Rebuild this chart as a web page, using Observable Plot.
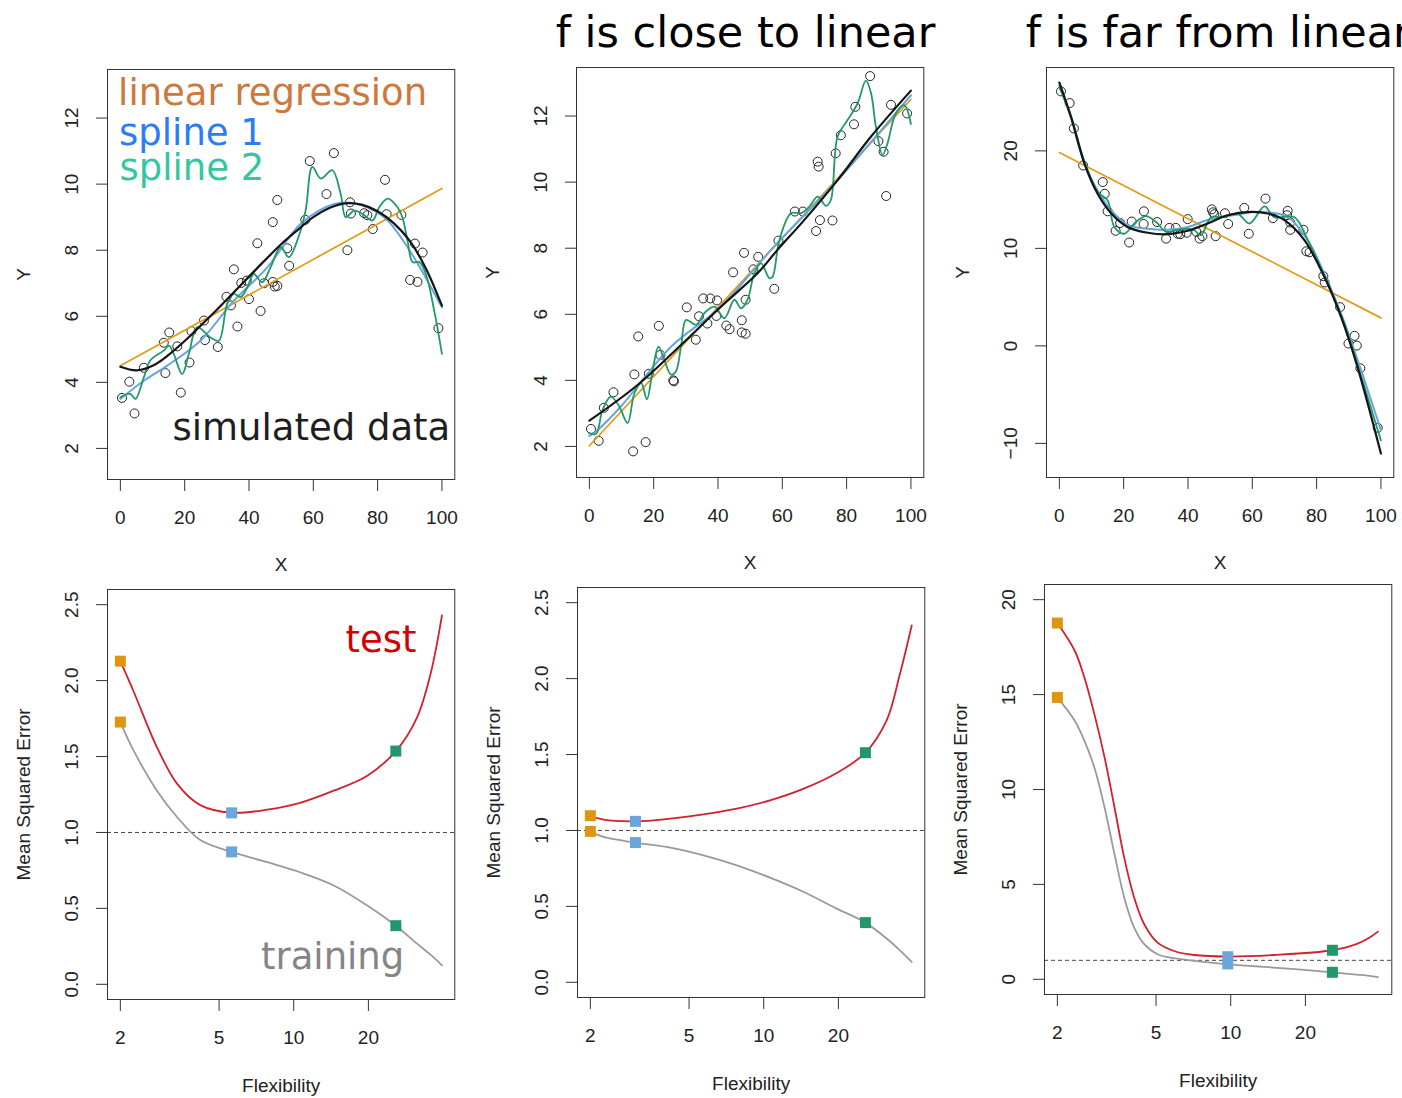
<!DOCTYPE html>
<html><head><meta charset="utf-8">
<script src="https://cdn.jsdelivr.net/npm/d3@7"></script>
<script src="https://cdn.jsdelivr.net/npm/@observablehq/plot@0.6"></script>
<style>
html,body{margin:0;padding:0;background:#fff;overflow:hidden;}
#wrap{position:relative;width:1402px;height:1098px;overflow:hidden;background:#fff;}
#wrap svg{position:absolute;}
</style></head><body><div id="wrap"></div>
<script>
// ---------- Top row: simulated data ----------
const xTicksTop = [0, 20, 40, 60, 80, 100];
const yTicksLin = [2, 4, 6, 8, 10, 12];
const yTicksFar = [-10, 0, 10, 20];

// Panel 1 (simulated data)
const p1X = [0.5,2.8,4.4,7.3,14.0,13.5,15.2,17.7,18.8,21.5,22.1,26.0,26.3,30.3,33.0,34.4,35.3,36.4,37.6,39.3,40.0,42.6,43.6,44.7,47.4,47.4,48.0,48.8,48.8,52.5,51.9,57.5,58.9,64.1,66.4,70.6,71.4,71.7,75.8,76.8,78.5,82.3,82.8,87.4,91.6,94.0,90.1,92.4,98.9];
const p1Y = [3.53,4.02,3.06,4.44,4.28,5.20,5.51,5.09,3.69,4.60,5.55,5.87,5.28,5.07,6.59,6.33,7.42,5.69,7.01,7.08,6.52,8.21,6.16,7.0,8.85,7.04,6.90,6.92,9.52,7.53,8.06,8.92,10.70,9.70,10.94,8.0,9.45,9.11,9.12,9.06,8.64,10.13,9.09,9.07,8.20,7.93,7.10,7.04,5.64];
const p1Linear = [[0,4.5],[100,9.87]];
const p1True = [[0,4.47],[5,4.36],[10,4.5],[15,4.83],[20,5.25],[25,5.72],[30,6.2],[35,6.7],[40,7.2],[45,7.7],[50,8.18],[55,8.6],[60,9.0],[65,9.28],[70,9.42],[75,9.38],[80,9.18],[85,8.82],[90,8.28],[95,7.45],[100,6.32]];
const p1Spline1 = [[0,3.5],[7.3,4.05],[14.5,4.5],[24.9,5.26],[35.3,6.47],[45.7,7.48],[56.1,8.8],[66.5,9.4],[72.7,9.42],[82,9.0],[89.3,8.09],[100,6.27]];
const p1Spline2 = [[0,3.55],[3.1,3.65],[4.7,3.5],[7.3,4.15],[9.3,4.66],[13.5,4.96],[15.1,5.11],[16.6,4.86],[19.2,4.25],[21.3,4.86],[23.9,5.67],[28.0,5.36],[30.6,5.26],[33.2,6.37],[35.3,6.68],[37.4,6.58],[39.5,6.88],[41.5,7.28],[44.1,7.03],[46.7,7.48],[49.8,8.09],[52.4,7.79],[55.0,8.29],[57.6,9.2],[59.7,10.52],[62.3,10.17],[65.9,10.42],[68.5,9.71],[70.1,9.0],[72.7,9.2],[75.3,9.1],[78.4,8.9],[80.5,9.3],[83.1,9.56],[86.2,9.3],[87.7,9.0],[89.3,8.29],[90.9,7.64],[93.0,7.64],[95.0,7.28],[97.6,6.17],[100,4.86]];

// Panel 2 (f close to linear)
const p2X = [0.5,2.9,4.5,7.5,13.6,17.5,14.0,15.2,18.5,21.6,22.1,26.1,26.3,30.3,33.1,34.1,35.4,36.7,37.6,39.7,39.5,42.6,43.6,44.7,47.4,47.4,48.6,48.6,48.1,51.0,52.5,57.5,58.8,63.9,66.4,70.5,71.7,75.6,71.0,71.3,76.6,78.2,82.3,82.7,87.3,89.9,91.5,92.3,93.8,98.8];
const p2Y = [2.53,2.17,3.17,3.64,1.85,2.13,4.18,5.33,4.2,5.65,4.77,4.0,3.97,6.21,5.23,5.94,6.48,5.72,6.48,6.42,5.95,5.66,5.55,7.27,5.82,5.45,5.41,6.44,7.86,7.36,7.74,6.77,8.23,9.11,9.11,8.52,8.85,8.84,10.62,10.47,10.87,11.42,11.75,12.28,13.21,11.24,10.92,9.58,12.34,12.08];
const p2Linear = [[0,2.02],[100,12.5]];
const p2True = [[0,2.78],[15,3.86],[28.5,5.07],[40.9,6.23],[52.3,7.24],[58.5,7.95],[66.8,8.85],[77.2,10.06],[87.6,11.38],[100,12.77]];
const p2Spline1 = [[0,2.32],[2.6,2.5],[9.8,3.21],[25.4,5.02],[40.9,6.23],[56.5,7.95],[77.2,10.06],[100,12.63]];
const p2Spline2 = [[0,2.4],[2.1,2.38],[4.1,3.11],[6.7,3.51],[9.3,3.21],[11.9,2.71],[14.0,3.61],[16.1,3.92],[17.9,3.43],[19.7,4.32],[21.5,5.02],[23.3,4.62],[25.4,4.17],[26.9,4.27],[28.5,5.02],[30.1,5.83],[33.2,5.68],[35.7,6.03],[38.9,6.23],[42.0,5.88],[45.1,6.44],[47.2,6.18],[49.2,6.44],[51.3,7.24],[53.4,7.54],[56.0,7.09],[57.0,7.14],[59.1,8.25],[62.7,9.06],[65.8,9.06],[68.4,9.26],[71.0,9.56],[73.6,9.28],[75.1,9.46],[77.2,11.38],[80.3,11.88],[83.4,12.38],[86.0,13.07],[87.6,12.69],[89.1,11.68],[91.2,10.82],[92.7,11.17],[95.3,12.08],[97.9,12.33],[100,11.76]];

// Panel 3 (f far from linear)
const p3X = [0.5,3.2,4.5,7.4,13.5,14.1,15.0,17.5,18.9,21.7,22.5,26.3,26.2,30.4,33.2,34.2,36.2,36.8,37.6,39.9,39.6,42.6,43.6,44.5,47.4,47.8,48.2,48.6,51.5,52.5,57.5,58.9,64.1,66.4,71.0,70.8,71.8,71.8,75.9,76.8,77.8,82.1,82.5,87.3,91.8,89.9,92.5,93.6,99.0];
const p3Y = [26.1,24.9,22.3,18.5,16.8,15.6,13.8,11.8,12.6,10.6,12.75,13.8,12.5,12.7,11.0,12.1,12.1,11.5,11.45,13.0,11.6,11.7,11.0,11.25,14.0,13.7,13.5,11.25,13.6,12.5,14.15,11.5,15.1,13.1,13.85,13.4,12.65,11.9,11.9,9.7,9.6,7.15,6.5,3.97,1.03,0.24,0.03,-2.3,-8.4];
const p3Linear = [[0,19.83],[100,2.87]];
const p3True = [[0,27.0],[3.6,23.5],[7.8,18.7],[11.9,15.6],[16.1,13.6],[21.2,12.2],[27.5,11.6],[33.7,11.45],[39.9,11.8],[46.1,12.55],[52.3,13.4],[59.6,13.74],[64.8,13.57],[70.0,12.9],[76.2,10.84],[82.4,7.08],[87.6,2.97],[92.7,-2.15],[100,-11.04]];
const p3Spline1 = [[0,26.7],[3.6,23.4],[7.8,18.8],[11.9,15.9],[16.1,13.9],[21.2,12.4],[27.5,12.0],[33.7,11.9],[40,12.2],[46.1,12.9],[54,13.4],[62.7,13.74],[71,13.2],[77.2,10.84],[82.4,7.4],[87.6,3.3],[92.7,-1.4],[100,-8.65]];
const p3Spline2 = [[0,26.5],[3.6,23.6],[7.8,18.9],[11.9,15.8],[15.0,14.9],[17.1,12.2],[20.2,11.5],[23.3,12.55],[26.9,13.3],[30.1,12.7],[33.2,11.7],[36.3,11.86],[39.9,12.0],[42.0,11.86],[44.0,11.35],[47.2,13.2],[50.8,13.2],[55.4,13.57],[59.1,12.55],[63.8,14.3],[66.8,13.2],[73.1,13.2],[77.2,10.9],[82.4,7.2],[87.6,3.2],[92.7,-1.9],[100,-9.7]];

// ---------- Bottom row: MSE vs flexibility ----------
const xTicksFlex = [2, 5, 10, 20];
const yTicksMse = [0, 0.5, 1, 1.5, 2, 2.5];
const yTicksMse3 = [0, 5, 10, 15, 20];
const markerColors = ["#DE9510", "#68A6DC", "#21976A"];

const p4Flex = [2, 2.26, 2.81, 3.39, 4.20, 5.62, 7.81, 10.6, 14.5, 19.8, 25.8, 31.4, 35.6, 39.6];
const p4Test = [2.128, 1.93, 1.56, 1.32, 1.18, 1.13, 1.15, 1.195, 1.275, 1.374, 1.536, 1.757, 2.043, 2.43];
const p4Train = [1.727, 1.54, 1.275, 1.10, 0.95, 0.872, 0.804, 0.738, 0.651, 0.519, 0.386, 0.268, 0.195, 0.125];
const p4MarkFlex = [2, 5.62, 25.8];
const p4MarkTest = [2.128, 1.129, 1.536];
const p4MarkTrain = [1.727, 0.872, 0.386];

const p5Flex = [2, 2.26, 3.04, 4.2, 5.72, 7.79, 10.6, 14.5, 19.7, 25.7, 31.3, 35.4, 39.5];
const p5Test = [1.097, 1.071, 1.06, 1.078, 1.106, 1.144, 1.198, 1.275, 1.378, 1.512, 1.725, 2.03, 2.35];
const p5Train = [0.994, 0.957, 0.92, 0.887, 0.836, 0.77, 0.689, 0.595, 0.485, 0.393, 0.288, 0.21, 0.134];
const p5MarkFlex = [2, 3.04, 25.7];
const p5MarkTest = [1.097, 1.06, 1.512];
const p5MarkTrain = [0.994, 0.92, 0.393];

const p6Flex = [2, 2.35, 2.57, 2.82, 3.10, 3.40, 3.72, 4.08, 4.48, 5.07, 5.91, 7.11, 9.73, 14.9, 25.7, 32.1, 36.3, 39.2];
const p6Test = [18.77, 17.31, 15.9, 13.97, 11.69, 9.05, 6.41, 4.31, 2.9, 1.93, 1.49, 1.28, 1.2, 1.28, 1.53, 1.85, 2.2, 2.51];
const p6Train = [14.85, 13.62, 12.57, 11.16, 9.05, 6.59, 4.31, 2.72, 1.85, 1.32, 1.11, 0.97, 0.79, 0.62, 0.37, 0.25, 0.18, 0.12];
const p6MarkFlex = [2, 9.73, 25.7];
const p6MarkTest = [18.77, 1.19, 1.53];
const p6MarkTrain = [14.85, 0.81, 0.37];

// ---------- layout ----------
const wrap = document.getElementById("wrap");
const FW = 347.3, FH = 410;
const ML = 110, MR = 10, MT = 75, MB = 100;
const TICKFONT = "Liberation Sans, Arial, Helvetica, sans-serif";
const BIGFONT = "DejaVu Sans, Verdana, sans-serif";
const fmtMse = d => d.toFixed(1);
const fmtInt = d => d < 0 ? "\u2212" + Math.abs(d) : String(d);

function pts(xs, ys) { return xs.map((x, i) => ({x, y: ys[i]})); }
function pairs(arr) { return arr.map(([x, y]) => ({x, y})); }

function panel({left, top, x, y, xTicks, yTicks, yFmt, xLabel, yLabel, xLabelDy, marks}) {
  const svg = Plot.plot({
    width: FW + ML + MR, height: FH + MT + MB,
    marginLeft: ML, marginRight: MR, marginTop: MT, marginBottom: MB,
    x, y,
    style: {fontFamily: TICKFONT, fontSize: "19px", color: "#222", background: "transparent", overflow: "visible"},
    marks: [
      ...marks,
      Plot.frame({stroke: "#333", strokeWidth: 1}),
      Plot.axisX(xTicks, {tickSize: 12, tickFormat: () => "", label: null, stroke: "#333"}),
      Plot.text(xTicks, {x: d => d, text: d => String(d), frameAnchor: "bottom", textAnchor: "middle", lineAnchor: "top", dy: 31, fontSize: 19, fill: "#222"}),
      Plot.axisY(yTicks, {tickSize: 11, tickFormat: () => "", label: null, stroke: "#333"}),
      Plot.text(yTicks, {y: d => d, text: yFmt, frameAnchor: "left", textAnchor: "middle", lineAnchor: "middle", rotate: -90, dx: -36, fontSize: 19, fill: "#222"}),
      Plot.text([xLabel], {text: d => d, frameAnchor: "bottom", textAnchor: "middle", lineAnchor: "middle", dy: xLabelDy, fontSize: 19, fill: "#222"}),
      Plot.text([yLabel], {text: d => d, frameAnchor: "left", textAnchor: "middle", lineAnchor: "middle", rotate: -90, dx: -84, fontSize: 19, fill: "#222"})
    ]
  });
  svg.style.left = (left - ML) + "px";
  svg.style.top = (top - MT) + "px";
  wrap.appendChild(svg);
}

function topMarks(X, Y, lin, s2, s1, tru) {
  return [
    Plot.dot(pts(X, Y), {x: "x", y: "y", r: 4.5, stroke: "#222", strokeWidth: 1, fill: "none"}),
    Plot.line(pairs(lin), {x: "x", y: "y", stroke: "#E39A14", strokeWidth: 1.7}),
    Plot.line(pairs(s1), {x: "x", y: "y", stroke: "#66A5DD", strokeWidth: 2, curve: "catmull-rom"}),
    Plot.line(pairs(s2), {x: "x", y: "y", stroke: "#1F9A68", strokeWidth: 1.8, curve: "catmull-rom"}),
    Plot.line(pairs(tru), {x: "x", y: "y", stroke: "#151515", strokeWidth: 2.2, curve: "catmull-rom"})
  ];
}

function title(t) {
  return Plot.text([t], {text: d => d, frameAnchor: "top-left", textAnchor: "start", lineAnchor: "bottom", dx: -20.7, dy: -20.3, fontSize: 43, fontFamily: BIGFONT, fill: "#000"});
}

function label(t, dx, dy, color) {
  return Plot.text([t], {text: d => d, frameAnchor: "top-left", textAnchor: "start", lineAnchor: "bottom", dx, dy, fontSize: 37, fontFamily: BIGFONT, fill: color});
}

function bottomMarks(F, test, train, MF, MTe, MTr) {
  const m = MF.map((f, i) => ({f, c: markerColors[i]}));
  return [
    Plot.ruleY([1], {stroke: "#444", strokeWidth: 1, strokeDasharray: "4,3"}),
    Plot.line(pts(F, train), {x: "x", y: "y", stroke: "#9A9A9A", strokeWidth: 1.8, curve: "catmull-rom"}),
    Plot.line(pts(F, test), {x: "x", y: "y", stroke: "#D2202F", strokeWidth: 1.8, curve: "catmull-rom"}),
    Plot.dot(m, {x: "f", y: (d, i) => MTr[i], fill: d => d.c, symbol: "square", r: 6.2, stroke: null}),
    Plot.dot(m, {x: "f", y: (d, i) => MTe[i], fill: d => d.c, symbol: "square", r: 6.2, stroke: null})
  ];
}

const xTop = {domain: [-4, 104]};
const yLin = {domain: [1.06, 13.47]};
const xFlex = {type: "log", domain: [1.775, 44.6]};

panel({left: 106.7, top: 69.3, x: xTop, y: yLin, xTicks: xTicksTop, yTicks: yTicksLin, yFmt: fmtInt, xLabel: "X", yLabel: "Y", xLabelDy: 85,
  marks: [
    ...topMarks(p1X, p1Y, p1Linear, p1Spline2, p1Spline1, p1True),
    label("linear regression", 10.6, 35.7, "#CD783C"),
    label("spline 1", 11.6, 75.7, "#2B7DF5"),
    label("spline 2", 12, 111, "#33C7A0"),
    label("simulated data", 65, 370.7, "#1e1e1e")
  ]});
panel({left: 575.7, top: 67.3, x: xTop, y: yLin, xTicks: xTicksTop, yTicks: yTicksLin, yFmt: fmtInt, xLabel: "X", yLabel: "Y", xLabelDy: 85,
  marks: [...topMarks(p2X, p2Y, p2Linear, p2Spline2, p2Spline1, p2True), title("f is close to linear")]});
panel({left: 1045.7, top: 67.3, x: xTop, y: {domain: [-13.5, 28.55]}, xTicks: xTicksTop, yTicks: yTicksFar, yFmt: fmtInt, xLabel: "X", yLabel: "Y", xLabelDy: 85,
  marks: [...topMarks(p3X, p3Y, p3Linear, p3Spline2, p3Spline1, p3True), title("f is far from linear")]});

panel({left: 106.7, top: 588.5, x: xFlex, y: {domain: [-0.1, 2.6]}, xTicks: xTicksFlex, yTicks: yTicksMse, yFmt: fmtMse, xLabel: "Flexibility", yLabel: "Mean Squared Error", xLabelDy: 86,
  marks: [
    ...bottomMarks(p4Flex, p4Test, p4Train, p4MarkFlex, p4MarkTest, p4MarkTrain),
    label("test", 238, 62.5, "#D40000"),
    label("training", 153.5, 379.2, "#858585")
  ]});
panel({left: 577.4, top: 587, x: xFlex, y: {domain: [-0.1, 2.6]}, xTicks: xTicksFlex, yTicks: yTicksMse, yFmt: fmtMse, xLabel: "Flexibility", yLabel: "Mean Squared Error", xLabelDy: 86,
  marks: bottomMarks(p5Flex, p5Test, p5Train, p5MarkFlex, p5MarkTest, p5MarkTrain)});
panel({left: 1044, top: 584, x: xFlex, y: {domain: [-0.8, 20.8]}, xTicks: xTicksFlex, yTicks: yTicksMse3, yFmt: fmtInt, xLabel: "Flexibility", yLabel: "Mean Squared Error", xLabelDy: 86,
  marks: bottomMarks(p6Flex, p6Test, p6Train, p6MarkFlex, p6MarkTest, p6MarkTrain)});
</script>
</body></html>
